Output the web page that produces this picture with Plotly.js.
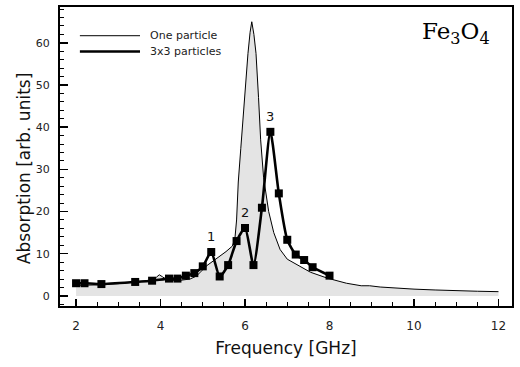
<!DOCTYPE html>
<html>
<head>
<meta charset="utf-8">
<script src="https://cdn.plot.ly/plotly-3.0.1.min.js"></script>
<style>
  html, body { margin: 0; padding: 0; background: #fff; }
  #plot { width: 520px; height: 367px; }
</style>
</head>
<body>
<div id="plot"></div>
<script>
// one particle spectrum (thin line, grey fill)
let freqOne = [2.0, 2.5, 3.0, 3.5, 3.8, 3.9, 3.97, 4.05, 4.15, 4.4, 4.7, 4.85, 5.0, 5.1, 5.25, 5.4, 5.55, 5.7,
  5.76, 5.8, 5.84, 5.9, 5.95, 6.0, 6.07, 6.12, 6.16, 6.21, 6.26, 6.32, 6.37, 6.44, 6.56, 6.68, 6.83,
  7.0, 7.15, 7.3, 7.55, 7.95, 8.4, 8.75, 8.95, 9.2, 9.6, 10.0, 10.5, 11.0, 11.5, 12.0];
let absOne = [2.5, 2.6, 2.9, 3.3, 3.7, 4.4, 5.0, 4.5, 3.8, 3.6, 4.0, 4.7, 6.2, 7.2, 8.3, 9.3, 10.5, 11.8,
  13.5, 18, 27, 35, 42, 48, 57.5, 62.5, 65, 62, 57.5, 47, 37, 28, 20, 15, 11,
  8.7, 7.8, 6.9, 5.6, 4.2, 3.0, 2.4, 2.4, 2.1, 1.8, 1.6, 1.4, 1.2, 1.1, 1.0];

// 3x3 particles (thick line with squares)
let freqArr = [2.0, 2.2, 2.6, 3.4, 3.8, 4.2, 4.4, 4.6, 4.8, 5.0, 5.2, 5.4, 5.6, 5.8, 6.0, 6.2,
  6.4, 6.6, 6.8, 7.0, 7.2, 7.4, 7.6, 8.0];
let absArr = [3.0, 3.0, 2.8, 3.3, 3.6, 4.1, 4.1, 4.8, 5.4, 7.0, 10.4, 4.6, 7.3, 13.0, 16.1, 7.3,
  20.9, 38.9, 24.3, 13.3, 9.8, 8.5, 6.8, 4.8];

// peak labels
let peakNames = ['1', '2', '3'];
let peakIdx = [10, 14, 17];

// legend entries
let legendNames = ['One particle', '3x3 particles'];
let legendWidths = [1, 2.6];

let traceOne = {
  x: freqOne, y: absOne,
  mode: 'lines', name: legendNames[0],
  line: {color: '#000', width: 1},
  fill: 'tozeroy', fillcolor: '#e4e4e4'
};

let traceArrLine = {
  x: freqArr, y: absArr,
  mode: 'lines', name: legendNames[1],
  line: {color: '#000', width: 2.6, shape: 'spline', smoothing: 0.6}
};

let traceArrPts = {
  x: freqArr, y: absArr,
  mode: 'markers', showlegend: false,
  marker: {symbol: 'square', size: 8, color: '#000'}
};

let annotations = peakNames.map((n, i) => ({
  x: freqArr[peakIdx[i]], y: absArr[peakIdx[i]],
  text: n, showarrow: false, yanchor: 'bottom', yshift: 6,
  font: {family: 'DejaVu Sans', size: 13, color: '#111'}
}));

annotations.push({
  xref: 'paper', yref: 'paper', x: 0.955, y: 0.97, xanchor: 'right', yanchor: 'top',
  text: 'Fe<sub>3</sub>O<sub>4</sub>', showarrow: false,
  font: {family: 'DejaVu Serif', size: 23, color: '#000'}
});

annotations.push({
  xref: 'paper', yref: 'paper', x: -0.078, y: 0.46, xanchor: 'center', yanchor: 'middle',
  text: 'Absorption [arb. units]', textangle: -90, showarrow: false,
  font: {family: 'DejaVu Sans', size: 17, color: '#111'}
});

// hand-drawn legend, long line samples like the original
let shapes = [];
let legendY = [0.904, 0.851];
legendNames.forEach((n, i) => {
  shapes.push({type: 'line', xref: 'paper', yref: 'paper', x0: 0.044, x1: 0.177,
    y0: legendY[i], y1: legendY[i], line: {color: '#000', width: legendWidths[i]}});
  annotations.push({xref: 'paper', yref: 'paper', x: 0.195, y: legendY[i],
    xanchor: 'left', yanchor: 'middle', text: n, showarrow: false,
    font: {family: 'DejaVu Sans', size: 11, color: '#222'}});
});

let layout = {
  width: 520, height: 367,
  margin: {l: 60, r: 8, t: 7, b: 61},
  paper_bgcolor: '#fff', plot_bgcolor: '#fff',
  showlegend: false,
  xaxis: {
    range: [1.62, 12.32], tickvals: [2, 4, 6, 8, 10, 12],
    ticks: 'inside', ticklen: 7, tickwidth: 1.5, tickcolor: '#000',
    minor: {dtick: 0.5, ticks: 'inside', ticklen: 4, tickcolor: '#000', tickwidth: 1},
    showline: true, linecolor: '#000', linewidth: 2, mirror: true,
    showgrid: false, zeroline: false, ticklabelstandoff: 8,
    tickfont: {family: 'DejaVu Sans', size: 12, color: '#222'},
    title: {text: 'Frequency [GHz]', standoff: 10, font: {family: 'DejaVu Sans', size: 17, color: '#111'}}
  },
  yaxis: {
    range: [-2.4, 68.5], tickvals: [0, 10, 20, 30, 40, 50, 60],
    ticks: 'inside', ticklen: 8, tickwidth: 1.5, tickcolor: '#000',
    minor: {dtick: 2, ticks: 'inside', ticklen: 4, tickcolor: '#000', tickwidth: 1},
    showline: true, linecolor: '#000', linewidth: 2, mirror: true,
    showgrid: false, zeroline: false, ticklabelstandoff: 6,
    tickfont: {family: 'DejaVu Sans', size: 11, color: '#222'}
  },
  shapes: shapes,
  annotations: annotations
};

Plotly.newPlot('plot', [traceOne, traceArrLine, traceArrPts], layout, {displayModeBar: false, staticPlot: true});
</script>
</body>
</html>
